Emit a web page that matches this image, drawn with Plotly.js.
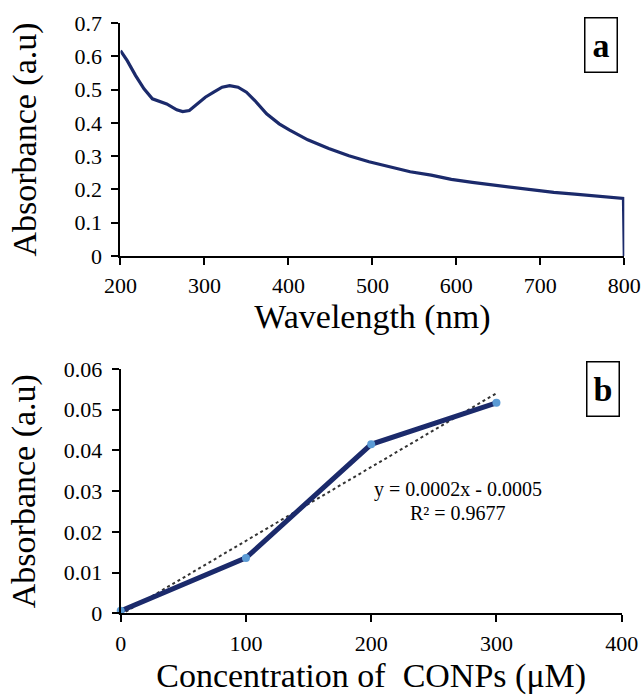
<!DOCTYPE html>
<html>
<head>
<meta charset="utf-8">
<script src="https://cdn.plot.ly/plotly-3.0.1.min.js"></script>
<style>
html,body{margin:0;padding:0;background:#fff;}
#chart{width:644px;height:695px;}
#chart svg text{font-family:"Liberation Serif", serif !important;}
</style>
</head>
<body>
<div id="chart"></div>
<script>
// Panel a: UV-Vis spectrum
const wavelength = [200, 208, 218, 228, 238, 247, 255, 267, 274, 282, 291, 301, 311, 321, 330, 340, 350, 360, 374, 389, 401, 423, 448, 472, 496, 521, 545, 570, 594, 619, 643, 667, 692, 716, 741, 765, 789, 799, 800];
const absorbanceA = [0.617, 0.587, 0.542, 0.502, 0.472, 0.464, 0.457, 0.439, 0.434, 0.437, 0.455, 0.477, 0.492, 0.507, 0.512, 0.507, 0.492, 0.467, 0.427, 0.397, 0.379, 0.349, 0.323, 0.301, 0.283, 0.268, 0.253, 0.243, 0.230, 0.221, 0.213, 0.205, 0.198, 0.191, 0.186, 0.180, 0.175, 0.173, 0];

// Panel b: calibration
const concentration = [0, 100, 200, 300];
const absorbanceB = [0.0006, 0.0136, 0.0415, 0.0517];
const equationText = "y = 0.0002x - 0.0005";
const r2Text = "R² = 0.9677";

// least-squares trendline from the data
const n = concentration.length;
const mx = concentration.reduce((a, b) => a + b, 0) / n;
const my = absorbanceB.reduce((a, b) => a + b, 0) / n;
let sxy = 0, sxx = 0;
for (let i = 0; i < n; i++) { sxy += (concentration[i] - mx) * (absorbanceB[i] - my); sxx += (concentration[i] - mx) ** 2; }
const slope = sxy / sxx, intercept = my - slope * mx;
const trendX = [concentration[0], concentration[n - 1]];
const trendY = trendX.map(x => slope * x + intercept);

const FONT = 'Liberation Serif, serif';
const NAVY = '#1b2a6b';

const traces = [
  {x: wavelength, y: absorbanceA, xaxis: 'x', yaxis: 'y', mode: 'lines',
   line: {color: NAVY, width: 3.2}, hoverinfo: 'none', cliponaxis: false},
  {x: trendX, y: trendY, xaxis: 'x2', yaxis: 'y2', mode: 'lines',
   line: {color: '#333333', width: 2, dash: 'dot'}, hoverinfo: 'none'},
  {x: concentration, y: absorbanceB, xaxis: 'x2', yaxis: 'y2', mode: 'lines+markers',
   line: {color: NAVY, width: 5}, marker: {color: '#5b9bd5', size: 8}, hoverinfo: 'none', cliponaxis: false}
];

function axis(extra, titleText, standoff) {
  return Object.assign({
    showgrid: false, zeroline: false, showline: true, linecolor: '#000', linewidth: 2,
    ticks: 'outside', ticklen: 7, tickwidth: 2, tickcolor: '#000',
    tickfont: {family: FONT, size: 22, color: '#000'}, fixedrange: true,
    title: {text: titleText, standoff: standoff, font: {family: FONT, size: 34, color: '#000'}}
  }, extra);
}

const layout = {
  width: 644, height: 695, margin: {l: 0, r: 0, t: 0, b: 0},
  paper_bgcolor: '#fff', plot_bgcolor: '#fff', showlegend: false,
  font: {family: FONT, color: '#000', size: 22},
  xaxis: axis({domain: [0.1871, 0.9694], range: [200, 800], dtick: 100, anchor: 'y', ticklabelstandoff: 2}, 'Wavelength (nm)', 5),
  yaxis: axis({domain: [0.6317, 0.9669], range: [0, 0.7], dtick: 0.1, anchor: 'x', ticklabelstandoff: 5}, 'Absorbance (a.u)', 28),
  xaxis2: axis({domain: [0.1874, 0.9654], range: [0, 400], dtick: 100, anchor: 'y2', ticklabelstandoff: 2}, 'Concentration of\u00A0 CONPs (μM)', 9),
  yaxis2: axis({domain: [0.1176, 0.4691], range: [0, 0.06], dtick: 0.01, anchor: 'x2', ticklabelstandoff: 5}, 'Absorbance (a.u)', 18),
  annotations: [
    {text: '<b>a</b>', xref: 'paper', yref: 'paper', x: 601 / 644, y: 1 - 45 / 695, xanchor: 'center', yanchor: 'middle',
     showarrow: false, font: {family: FONT, size: 34, color: '#000'}, bordercolor: '#000', borderwidth: 1.5, borderpad: 0,
     width: 31, height: 53, bgcolor: '#fff'},
    {text: '<b>b</b>', xref: 'paper', yref: 'paper', x: 602.5 / 644, y: 1 - 389 / 695, xanchor: 'center', yanchor: 'middle',
     showarrow: false, font: {family: FONT, size: 34, color: '#000'}, bordercolor: '#000', borderwidth: 1.5, borderpad: 0,
     width: 31, height: 53, bgcolor: '#fff'},
    {text: equationText, xref: 'paper', yref: 'paper', x: 458 / 644, y: 1 - 490 / 695, xanchor: 'center', yanchor: 'middle',
     showarrow: false, font: {family: FONT, size: 20, color: '#000'}},
    {text: r2Text, xref: 'paper', yref: 'paper', x: 457.5 / 644, y: 1 - 512.5 / 695, xanchor: 'center', yanchor: 'middle',
     showarrow: false, font: {family: FONT, size: 20, color: '#000'}}
  ]
};

Plotly.newPlot('chart', traces, layout, {displayModeBar: false, staticPlot: true});
</script>
</body>
</html>
